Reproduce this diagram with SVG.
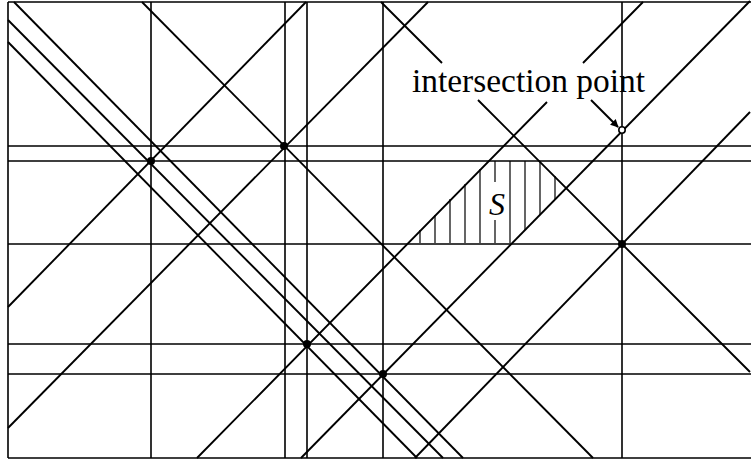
<svg xmlns="http://www.w3.org/2000/svg" width="751" height="461" viewBox="0 0 751 461">
<style>
.ln{stroke:#000;stroke-width:1.9;fill:none;stroke-linecap:butt}
.hv{stroke:#000;stroke-width:1.6;fill:none}
.ht{stroke:#000;stroke-width:1.2;fill:none}
.dot{fill:#000}
.lbl{font-family:"Liberation Serif","Times New Roman",serif;fill:#000}
</style>
<defs>
<marker id="ah" viewBox="0 0 10 10" refX="9" refY="5" markerWidth="10" markerHeight="8" markerUnits="userSpaceOnUse" orient="auto">
<path d="M0,0 L10,5 L0,10 Z" fill="#000"/>
</marker>
</defs>
<rect x="0" y="0" width="751" height="461" fill="#fff"/>
<g id="frame" class="hv">
<path d="M8,2 H751 M8,2 V458 M8,458 H751"/>
</g>
<g id="verticals" class="hv">
<path d="M151,2 V458 M285,2 V458 M307,2 V458 M383,2 V458 M622,2 V458"/>
</g>
<g id="horizontals" class="hv">
<path d="M8,146 H751 M8,161 H751 M8,244 H751 M8,344 H751 M8,374 H751"/>
</g>
<g id="connectors" class="ln">
<path d="M14,2 L463,458"/>
<path d="M8,20 L443,458"/>
<path d="M8,42 L417,458"/>
<path d="M142,2 L593,458"/>
<path d="M381,2 L442,63 M478,100 L750,372"/>
<path d="M750,1 L301,458"/>
<path d="M643,2 L583,63 M547,102 L197,458"/>
<path d="M306,2 L8,307"/>
<path d="M428,2 L8,428"/>
<path d="M750,112 L415,458"/>
</g>
<g id="hatch" class="ht">
<path d="M420,230 V243 M435,215 V243 M450,199 V243 M465,184 V243 M480,169 V243 M495,161 V182 M495,220 V243 M510,161 V243 M525,161 V230 M540,161 V215 M555,176 V199"/>
</g>
<g id="points">
<circle class="dot" cx="151" cy="161" r="4"/>
<circle class="dot" cx="284" cy="146" r="4"/>
<circle class="dot" cx="307" cy="344" r="4"/>
<circle class="dot" cx="383" cy="374" r="4"/>
<circle class="dot" cx="622" cy="244" r="4"/>
<circle cx="622" cy="130" r="3.2" fill="#fff" stroke="#000" stroke-width="1.6"/>
</g>
<g id="label-intersection">
<text class="lbl" x="412" y="92" font-size="34" textLength="233" lengthAdjust="spacingAndGlyphs">intersection point</text>
<line x1="591" y1="100" x2="618" y2="127" stroke="#000" stroke-width="1.9" marker-end="url(#ah)"/>
</g>
<g id="label-S">
<text class="lbl" x="497" y="215" font-size="32" font-style="italic" text-anchor="middle">S</text>
</g>
</svg>
